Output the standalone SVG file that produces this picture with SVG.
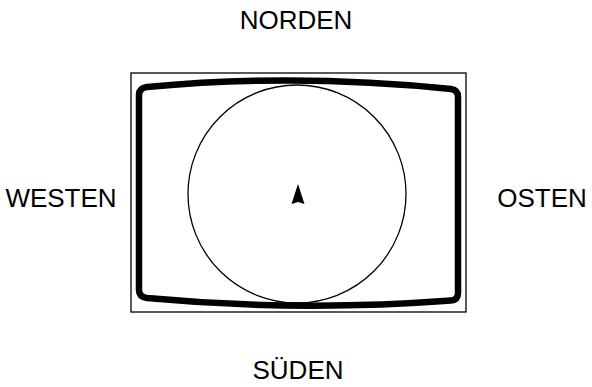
<svg xmlns="http://www.w3.org/2000/svg" width="592" height="387" viewBox="0 0 592 387">
<style>
.lbl{font-family:"Liberation Sans",Arial,sans-serif;font-size:26px;fill:#000;text-anchor:middle}
.thin{fill:none;stroke:#000;stroke-width:1.3}
.thick{fill:none;stroke:#000;stroke-width:6.5;stroke-linejoin:round}
</style>
<rect width="592" height="387" fill="#fff"/>
<g id="frame">
<rect class="thin" x="131" y="73" width="335" height="239"/>
</g>
<g id="screen">
<path class="thick" d="M147,87 Q297,73 451,89 Q458,90 458,97 L458,293 Q458,300 451,300.5 Q297,312 147,298 Q139,297 139,290 L139,95 Q139,88 147,87 Z"/>
</g>
<g id="circle">
<circle class="thin" cx="297" cy="194" r="109"/>
</g>
<g id="arrow">
<polygon points="298,184 304.5,204 298,202 291.5,204" fill="#000"/>
</g>
<g id="labels">
<text class="lbl" x="296" y="29">NORDEN</text>
<text class="lbl" x="61" y="207">WESTEN</text>
<text class="lbl" x="542" y="207">OSTEN</text>
<text class="lbl" x="298" y="379">SÜDEN</text>
</g>
</svg>
